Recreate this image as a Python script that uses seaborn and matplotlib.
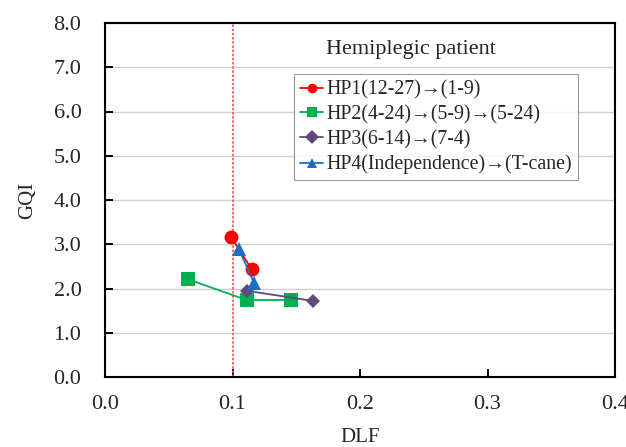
import matplotlib
matplotlib.use("Agg")
import matplotlib.pyplot as plt
import seaborn as sns
import pandas as pd

# Gait quality index (GQI) against double-limb-support fraction (DLF)
hp1_dlf = [0.099, 0.115]
hp1_gqi = [3.16, 2.44]
hp2_dlf = [0.065, 0.111, 0.146]
hp2_gqi = [2.21, 1.74, 1.74]
hp3_dlf = [0.111, 0.163]
hp3_gqi = [1.95, 1.72]
hp4_dlf = [0.105, 0.117]
hp4_gqi = [2.89, 2.12]

labels = ["HP1(12-27)→(1-9)",
          "HP2(4-24)→(5-9)→(5-24)",
          "HP3(6-14)→(7-4)",
          "HP4(Independence)→(T-cane)"]
threshold_dlf = 0.1
x_ticks = [0.0, 0.1, 0.2, 0.3, 0.4]
y_ticks = [0.0, 1.0, 2.0, 3.0, 4.0, 5.0, 6.0, 7.0, 8.0]

sns.set_theme(style="ticks")
plt.rcParams["font.family"] = ["Liberation Serif", "DejaVu Serif"]

fig = plt.figure(figsize=(6.26, 4.47), dpi=100)
ax = fig.add_axes([105 / 626, 1 - 377 / 447, 510 / 626, 354 / 447])

series = [
    (hp1_dlf, hp1_gqi, labels[0], "#FF0000", "o", 10),
    (hp2_dlf, hp2_gqi, labels[1], "#00B050", "s", 10),
    (hp3_dlf, hp3_gqi, labels[2], "#604A7B", "D", 7.5),
    (hp4_dlf, hp4_gqi, labels[3], "#1F6FC0", "^", 10),
]

for xs, ys, lab, col, mk, ms in series:
    df = pd.DataFrame({"DLF": xs, "GQI": ys})
    sns.lineplot(data=df, x="DLF", y="GQI", sort=False, ax=ax, color=col,
                 marker=mk, markersize=ms, markeredgewidth=0, linewidth=1.3,
                 label=lab)

ax.axvline(threshold_dlf, color="#FF5050", linestyle=(0, (1.5, 1.0)),
           linewidth=1.2, zorder=1.5)

ax.set_xlim(0, 0.4)
ax.set_ylim(0, 8)
ax.set_xticks(x_ticks)
ax.set_yticks(y_ticks)
ax.set_xticklabels([f"{v:.1f}" for v in x_ticks], fontsize=16)
ax.set_yticklabels([f"{v:.1f}" for v in y_ticks], fontsize=16)
ax.tick_params(axis="both", which="major", direction="in", length=6,
               width=1.4, color="black", bottom=True, left=True,
               top=False, right=False)
ax.tick_params(axis="x", pad=13)
ax.tick_params(axis="y", pad=17)
ax.yaxis.grid(True, color="#D0D0D0", linewidth=1.0)
ax.xaxis.grid(False)
ax.set_axisbelow(True)
for side in ["left", "bottom", "top", "right"]:
    ax.spines[side].set_visible(True)
    ax.spines[side].set_color("black")
    ax.spines[side].set_linewidth(1.5)

ax.set_xlabel("DLF", fontsize=15, labelpad=10)
ax.set_ylabel("GQI", fontsize=15, labelpad=12)

ax.text(0.6, 0.925, "Hemiplegic patient", transform=ax.transAxes,
        ha="center", va="center", fontsize=16)

leg = ax.legend(loc="upper left", bbox_to_anchor=(0.37, 0.855),
                fontsize=14.3, frameon=True, fancybox=False,
                handlelength=1.2, handletextpad=0.15, borderpad=0.3,
                labelspacing=0.28, borderaxespad=0)
leg.get_frame().set_edgecolor("#808080")
leg.get_frame().set_linewidth(0.8)
for h in leg.legend_handles:
    h.set_markersize(7)

fig.savefig("out.png", dpi=100)
